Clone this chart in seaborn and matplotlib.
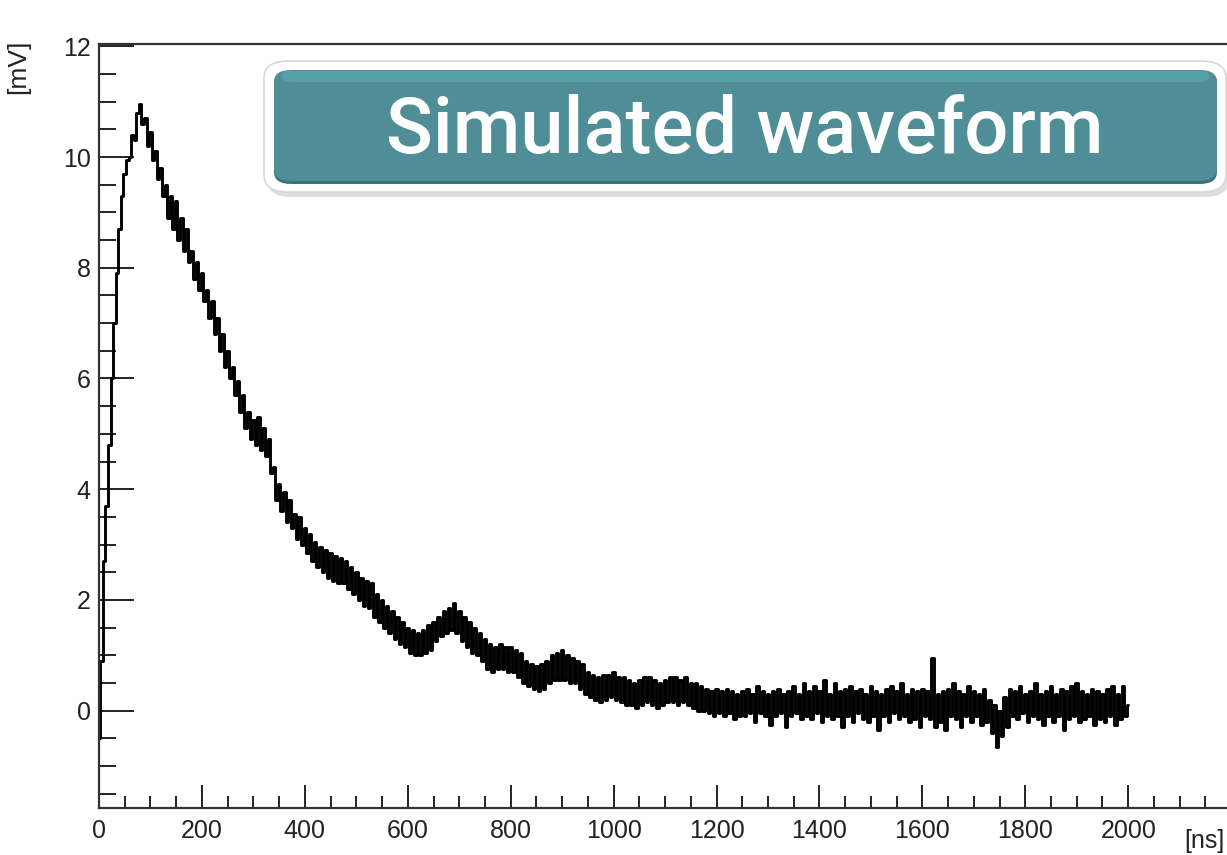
import numpy as np
import pandas as pd
import seaborn as sns
import matplotlib
matplotlib.use("Agg")
import matplotlib.pyplot as plt
from matplotlib.patches import FancyBboxPatch
from matplotlib.ticker import MultipleLocator

STEP_NS = 5
AMP_MV = [
    -0.5, 0.9, 2.7, 3.7, 4.8, 6.0, 7.0, 7.9, 8.7, 9.3,
    9.7, 9.95, 10.0, 10.4, 10.3, 10.8, 10.95, 10.6, 10.7, 10.2,
    10.45, 9.95, 10.1, 9.6, 9.8, 9.3, 9.5, 8.9, 9.3, 8.7,
    9.2, 8.5, 8.9, 8.3, 8.7, 8.1, 8.3, 7.8, 8.1, 7.6,
    7.9, 7.4, 7.6, 7.1, 7.4, 6.8, 7.1, 6.5, 6.8, 6.2,
    6.5, 6.0, 6.2, 5.7, 5.95, 5.4, 5.7, 5.1, 5.4, 4.9,
    5.25, 4.8, 5.3, 4.7, 5.1, 4.6, 4.9, 4.3, 4.4, 3.8,
    4.1, 3.6, 3.95, 3.4, 3.8, 3.3, 3.55, 3.1, 3.5, 3.0,
    3.3, 2.85, 3.2, 2.7, 3.05, 2.6, 2.95, 2.5, 2.9, 2.4,
    2.85, 2.35, 2.8, 2.3, 2.75, 2.3, 2.7, 2.2, 2.6, 2.1,
    2.5, 2.0, 2.4, 1.9, 2.35, 1.85, 2.3, 1.7, 2.1, 1.6,
    2.0, 1.5, 1.9, 1.4, 1.8, 1.3, 1.7, 1.2, 1.6, 1.15,
    1.5, 1.05, 1.45, 1.0, 1.4, 1.0, 1.45, 1.05, 1.55, 1.1,
    1.6, 1.25, 1.7, 1.35, 1.8, 1.4, 1.85, 1.45, 1.95, 1.4,
    1.8, 1.25, 1.7, 1.15, 1.6, 1.05, 1.5, 1.0, 1.4, 0.9,
    1.3, 0.75, 1.2, 0.7, 1.15, 0.75, 1.2, 0.75, 1.15, 0.7,
    1.15, 0.7, 1.1, 0.6, 1.05, 0.5, 0.9, 0.45, 0.85, 0.4,
    0.8, 0.35, 0.85, 0.4, 0.9, 0.5, 1.0, 0.55, 1.05, 0.55,
    1.1, 0.55, 1.0, 0.5, 0.95, 0.5, 0.9, 0.4, 0.85, 0.3,
    0.7, 0.25, 0.65, 0.2, 0.6, 0.15, 0.65, 0.2, 0.65, 0.25,
    0.7, 0.2, 0.6, 0.15, 0.6, 0.1, 0.55, 0.1, 0.5, 0.05,
    0.55, 0.1, 0.6, 0.15, 0.6, 0.1, 0.55, 0.05, 0.5, 0.1,
    0.55, 0.15, 0.6, 0.15, 0.6, 0.1, 0.55, 0.15, 0.6, 0.1,
    0.5, 0.05, 0.5, 0.0, 0.45, 0.0, 0.4, -0.05, 0.35, -0.1,
    0.4, -0.05, 0.35, -0.1, 0.4, -0.05, 0.35, -0.15, 0.3, -0.1,
    0.35, -0.1, 0.4, -0.05, 0.3, -0.2, 0.45, -0.05, 0.35, -0.1,
    0.3, -0.25, 0.35, -0.1, 0.4, -0.05, 0.3, -0.3, 0.35, -0.1,
    0.45, -0.05, 0.3, -0.15, 0.5, -0.1, 0.35, -0.15, 0.45, -0.05,
    0.35, -0.2, 0.55, -0.1, 0.3, -0.15, 0.5, -0.1, 0.35, -0.3,
    0.4, -0.1, 0.45, -0.2, 0.35, -0.05, 0.4, -0.15, 0.3, -0.2,
    0.45, -0.1, 0.35, -0.35, 0.3, -0.1, 0.4, -0.2, 0.45, -0.05,
    0.35, -0.15, 0.5, -0.1, 0.3, -0.2, 0.4, -0.15, 0.35, -0.3,
    0.4, -0.1, 0.35, -0.15, 0.95, -0.3, 0.3, -0.2, 0.35, -0.35,
    0.4, -0.1, 0.5, -0.15, 0.35, -0.3, 0.3, -0.1, 0.45, -0.2,
    0.35, -0.1, 0.3, -0.25, 0.4, -0.2, 0.2, -0.4, 0.1, -0.65,
    0.0, -0.45, 0.25, -0.3, 0.4, -0.1, 0.35, -0.15, 0.45, -0.05,
    0.3, -0.2, 0.35, -0.1, 0.5, -0.15, 0.3, -0.25, 0.35, -0.1,
    0.45, -0.2, 0.3, -0.1, 0.4, -0.35, 0.35, -0.15, 0.45, -0.1,
    0.5, -0.2, 0.35, -0.15, 0.3, -0.1, 0.4, -0.25, 0.35, -0.15,
    0.3, -0.2, 0.4, -0.1, 0.45, -0.25, 0.3, -0.15, 0.45, -0.1,
    0.1,
]
TIME_NS = np.arange(len(AMP_MV)) * STEP_NS

TITLE = "Simulated waveform"
X_UNIT = "[ns]"
Y_UNIT = "[mV]"


def main():
    sns.set_style("ticks")
    plt.rcParams["font.family"] = ["Liberation Sans", "DejaVu Sans"]

    df = pd.DataFrame({"t": TIME_NS, "v": AMP_MV})

    fig = plt.figure(figsize=(12.27, 8.55), dpi=100)
    ax = fig.add_axes([0.0807, 0.0546, 0.9193, 0.8945])

    sns.lineplot(data=df, x="t", y="v", ax=ax, color="black", linewidth=2.1,
                 estimator=None, drawstyle="steps-mid")

    ax.set_xlim(0, 2192)
    ax.set_ylim(-1.763, 12.05)
    ax.set_xlabel("")
    ax.set_ylabel("")

    ax.xaxis.set_major_locator(MultipleLocator(200))
    ax.xaxis.set_minor_locator(MultipleLocator(50))
    ax.yaxis.set_major_locator(MultipleLocator(2))
    ax.yaxis.set_minor_locator(MultipleLocator(0.5))
    ax.set_xticks(np.arange(0, 2001, 200))
    ax.set_yticks(np.arange(0, 13, 2))

    ax.tick_params(axis="y", which="major", direction="in", length=25, width=1.4,
                   labelsize=18, pad=6, color="#222222", labelcolor="#222222")
    ax.tick_params(axis="y", which="minor", direction="in", length=12, width=1.4,
                   color="#222222")
    ax.tick_params(axis="x", which="major", direction="in", length=16.5, width=1.4,
                   labelsize=18, pad=8, color="#222222", labelcolor="#222222")
    ax.tick_params(axis="x", which="minor", direction="in", length=8.5, width=1.4,
                   color="#222222")

    for side in ["left", "bottom", "top"]:
        ax.spines[side].set_linewidth(1.6)
        ax.spines[side].set_color("#333333")
    ax.spines["right"].set_visible(False)

    fig.text(18 / 1227, 1 - 40 / 855, Y_UNIT, rotation=90, ha="center", va="top",
             fontsize=19, color="#222222")
    fig.text(1184 / 1227, 2 / 855, X_UNIT, ha="left", va="bottom",
             fontsize=18, color="#222222")

    # title badge in pixel coords of the figure
    W, H = 1227.0, 855.0

    def box(x0, y0, x1, y1, r, **kw):
        p = FancyBboxPatch((x0 / W, 1 - y1 / H), (x1 - x0) / W, (y1 - y0) / H,
                           boxstyle="round,pad=0,rounding_size=%f" % (r / H),
                           transform=fig.transFigure, **kw)
        fig.patches.append(p)

    box(267, 66, 1229, 197, 17, facecolor="#000000", alpha=0.13, edgecolor="none")
    box(264, 61, 1226, 192, 17, facecolor="white", edgecolor="#d8d8d8", linewidth=1.2)
    box(274, 71, 1217, 184, 12, facecolor="#3c7078", edgecolor="none")
    box(274, 70, 1217, 181, 12, facecolor="#4f8e96", edgecolor="none")
    box(282, 71, 1209, 82, 5, facecolor="#58a0a7", edgecolor="none")

    fig.text(745 / W, 1 - 131 / H, TITLE, ha="center", va="center",
             fontsize=56, color="white", fontweight="medium",
             family=["Roboto", "DejaVu Sans"])

    fig.savefig("out.png", dpi=100)
    plt.close(fig)


if __name__ == "__main__":
    main()
